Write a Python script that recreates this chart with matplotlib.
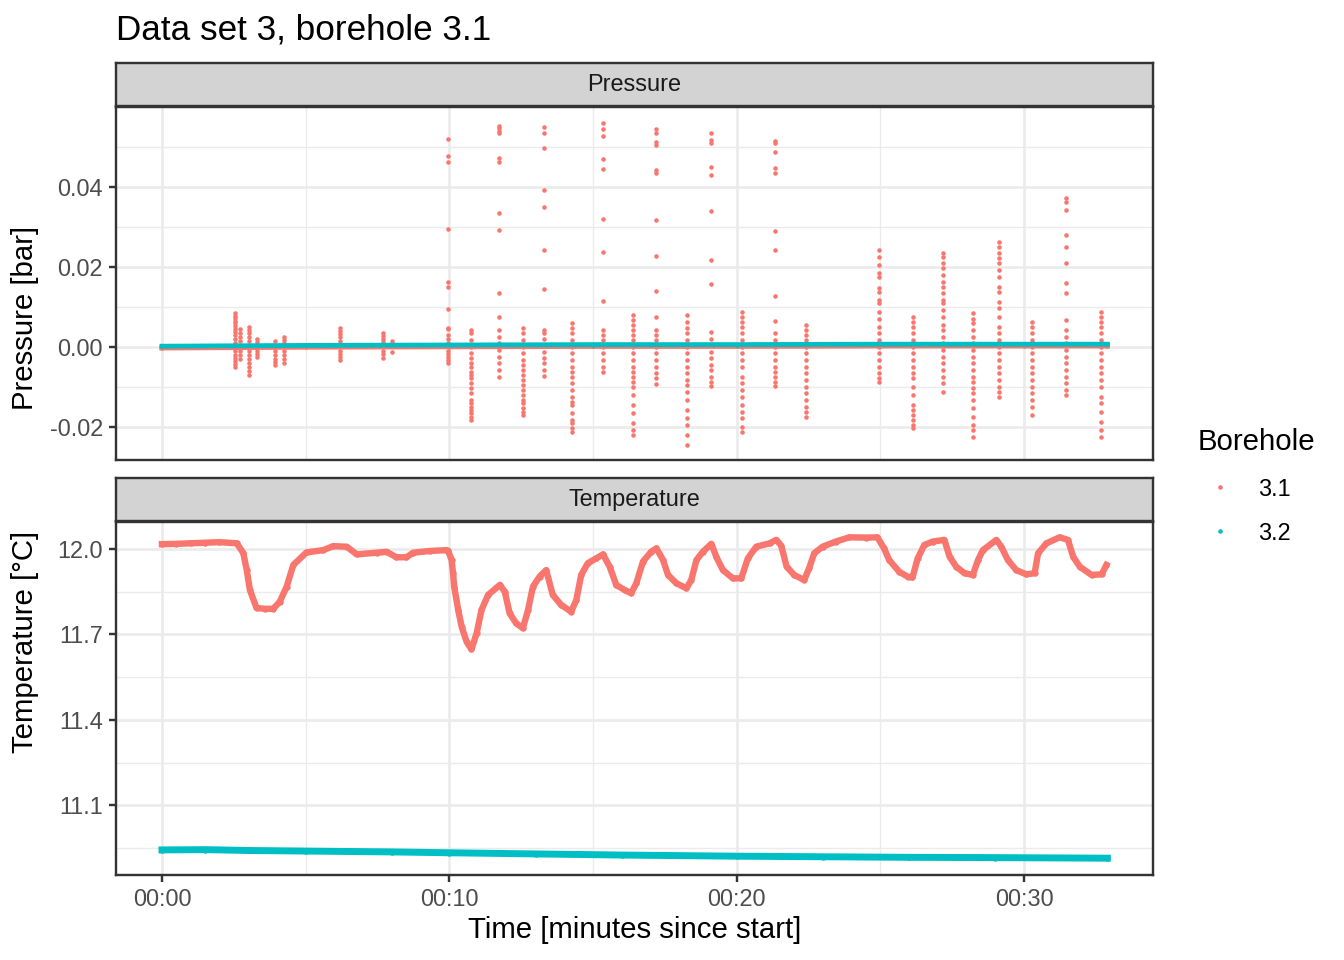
import matplotlib.pyplot as plt
from matplotlib.lines import Line2D

plt.rcParams['font.family'] = ['Liberation Sans', 'DejaVu Sans']

red = '#F8766D'
teal = '#00BFC4'

# Temperature, borehole 3.1 (minutes, degC)
temp_t_31 = [0.0, 0.5, 1.0, 1.5, 2.0, 2.6, 2.83, 2.95, 3.06, 3.29, 3.6, 3.87, 4.1, 4.34,
             4.57, 5.03, 5.61, 5.96, 6.43, 6.78, 7.47, 7.82, 8.16, 8.51, 8.74, 9.32, 9.9,
             9.96, 10.08, 10.13, 10.17, 10.31, 10.43, 10.6, 10.77, 10.95, 11.12, 11.35,
             11.76, 11.93, 12.1, 12.33, 12.56, 12.74, 12.91, 13.14, 13.37, 13.6, 13.89,
             14.24, 14.42, 14.59, 14.82, 15.11, 15.35, 15.58, 15.81, 16.1, 16.33, 16.51,
             16.74, 17.03, 17.21, 17.44, 17.61, 17.9, 18.25, 18.42, 18.6, 18.83, 19.12,
             19.29, 19.52, 19.87, 20.16, 20.39, 20.68, 21.15, 21.38, 21.55, 21.74, 22.0,
             22.35, 22.52, 22.7, 22.99, 23.45, 23.92, 24.5, 24.9, 25.13, 25.31, 25.66,
             25.95, 26.12, 26.3, 26.53, 26.82, 27.23, 27.41, 27.64, 27.93, 28.22, 28.4,
             28.57, 29.04, 29.21, 29.44, 29.73, 30.08, 30.37, 30.49, 30.78, 31.24, 31.53,
             31.71, 31.94, 32.35, 32.7, 32.87]
temp_v_31 = [12.017, 12.018, 12.02, 12.022, 12.024, 12.02, 11.986, 11.926, 11.856, 11.793,
             11.79, 11.79, 11.815, 11.868, 11.944, 11.988, 11.996, 12.01, 12.008, 11.981,
             11.987, 11.99, 11.971, 11.971, 11.987, 11.993, 11.996, 11.994, 11.961, 11.915,
             11.868, 11.786, 11.727, 11.675, 11.648, 11.704, 11.786, 11.839, 11.874, 11.85,
             11.774, 11.739, 11.722, 11.786, 11.868, 11.903, 11.926, 11.839, 11.804, 11.78,
             11.821, 11.909, 11.95, 11.967, 11.981, 11.938, 11.874, 11.856, 11.845, 11.88,
             11.956, 11.991, 12.002, 11.961, 11.909, 11.88, 11.862, 11.891, 11.961, 11.991,
             12.018, 11.973, 11.926, 11.897, 11.897, 11.967, 12.008, 12.02, 12.032, 12.012,
             11.938, 11.909, 11.891, 11.932, 11.985, 12.008, 12.026, 12.041, 12.04, 12.041,
             12.002, 11.961, 11.92, 11.903, 11.9, 11.967, 12.014, 12.026, 12.032, 11.973,
             11.938, 11.915, 11.909, 11.961, 11.996, 12.032, 12.008, 11.961, 11.926, 11.911,
             11.915, 11.985, 12.02, 12.041, 12.032, 11.973, 11.938, 11.909, 11.911, 11.944]

# Temperature, borehole 3.2
temp_t_32 = [0.0, 1.5, 3.0, 5.0, 8.0, 10.0, 13.0, 16.0, 20.0, 23.0, 26.0, 29.0, 32.9]
temp_v_32 = [10.944, 10.945, 10.942, 10.940, 10.937, 10.934, 10.930, 10.926, 10.922,
             10.920, 10.918, 10.917, 10.915]

# Pressure baseline (bar)
base_t = [0.0, 5.0, 10.0, 15.0, 20.0, 25.0, 30.0, 32.9]
base_31 = [-0.0002, 0.0, 0.0001, 0.0002, 0.0002, 0.0003, 0.0003, 0.0003]
base_32 = [0.0002, 0.0004, 0.0005, 0.0006, 0.0006, 0.0007, 0.0007, 0.0007]

# Pressure spikes of borehole 3.1: time of each burst and the readings in it
spike_times = [2.55, 2.72, 3.04, 3.3, 3.95, 4.25, 6.19, 7.7, 8.0, 9.96, 10.77, 11.72,
               12.56, 13.29, 14.27, 15.35, 16.4, 17.2, 18.27, 19.1, 20.19, 21.34, 22.41,
               24.97, 26.15, 27.19, 28.24, 29.12, 30.27, 31.45, 32.67]
spike_values = [
    [0.0084, 0.0078, 0.0072, 0.0065, 0.006, 0.0052, 0.0045, 0.0038, 0.003, 0.002, 0.001,
     -0.001, -0.002, -0.0028, -0.0035, -0.0042, -0.0049],
    [0.0045, 0.0035, 0.0025, 0.0015, -0.001, -0.002, -0.003],
    [0.0051, 0.0042, 0.0035, 0.0025, 0.0015, -0.001, -0.002, -0.003, -0.004, -0.005,
     -0.006, -0.0071],
    [0.0021, 0.0012, -0.001, -0.0018, -0.0025],
    [0.0015, -0.001, -0.002, -0.003, -0.0038, -0.0045],
    [0.0026, 0.0018, 0.001, -0.001, -0.002, -0.003, -0.004],
    [0.0047, 0.004, 0.0032, 0.0024, 0.0015, -0.001, -0.0018, -0.0026, -0.0033],
    [0.0034, 0.0028, 0.002, 0.0012, -0.001, -0.0018, -0.0028],
    [0.0015, -0.0012],
    [0.0519, 0.0477, 0.0463, 0.0295, 0.0163, 0.0151, 0.0094, 0.0048, 0.0045, 0.003,
     0.002, 0.001, -0.001, -0.0018, -0.0025, -0.0033, -0.0041],
    [0.0042, 0.0034, 0.0017, 0.0001, -0.0016, -0.0028, -0.0041, -0.0049, -0.0062, -0.007,
     -0.0078, -0.0091, -0.0103, -0.0116, -0.0133, -0.0141, -0.0149, -0.0158, -0.0166,
     -0.0174, -0.0183],
    [0.0553, 0.0547, 0.0541, 0.0536, 0.0472, 0.0463, 0.0334, 0.0292, 0.0134, 0.0076,
     0.0042, 0.0026, 0.0009, -0.0008, -0.0024, -0.0041, -0.0058, -0.0074],
    [0.0047, 0.0034, 0.0017, 0.0001, -0.0016, -0.0033, -0.0045, -0.0058, -0.007, -0.0083,
     -0.0095, -0.0108, -0.012, -0.0133, -0.0141, -0.0153, -0.0162, -0.017],
    [0.0551, 0.0534, 0.0497, 0.0393, 0.0349, 0.0243, 0.0144, 0.0042, 0.0034, 0.0021,
     0.0005, -0.0012, -0.0028, -0.0041, -0.0058, -0.0073],
    [0.0059, 0.0047, 0.0034, 0.0017, 0.0001, -0.0016, -0.0033, -0.0049, -0.0062, -0.0074,
     -0.0091, -0.0108, -0.0124, -0.0137, -0.0145, -0.0166, -0.0183, -0.0191, -0.0203,
     -0.0212],
    [0.0561, 0.0544, 0.0528, 0.0469, 0.0446, 0.0321, 0.0238, 0.0115, 0.0042, 0.003,
     0.0017, 0.0001, -0.0016, -0.0033, -0.0049, -0.0062],
    [0.008, 0.0068, 0.0055, 0.0042, 0.003, 0.0017, 0.0001, -0.0016, -0.0033, -0.0049,
     -0.0062, -0.0074, -0.0087, -0.01, -0.012, -0.0145, -0.0166, -0.0191, -0.0208, -0.022],
    [0.0545, 0.0534, 0.0513, 0.0505, 0.0443, 0.0436, 0.0318, 0.0228, 0.0141, 0.0076,
     0.0042, 0.003, 0.0017, 0.0001, -0.0016, -0.0033, -0.0049, -0.0066, -0.0078, -0.0092],
    [0.008, 0.0063, 0.0047, 0.0034, 0.0017, 0.0001, -0.0016, -0.0033, -0.0049, -0.0066,
     -0.0083, -0.0095, -0.0112, -0.0133, -0.0158, -0.0178, -0.0195, -0.022, -0.0245],
    [0.0536, 0.0518, 0.0511, 0.0449, 0.043, 0.0341, 0.0218, 0.0158, 0.0038, 0.0021,
     0.0005, -0.0012, -0.0028, -0.0045, -0.0058, -0.0074, -0.0087, -0.0098],
    [0.0088, 0.0076, 0.0063, 0.0051, 0.0034, 0.0017, 0.0001, -0.0016, -0.0033, -0.0049,
     -0.0074, -0.0091, -0.0108, -0.0124, -0.0145, -0.0162, -0.0178, -0.0199, -0.0212],
    [0.0516, 0.051, 0.0488, 0.0447, 0.0434, 0.029, 0.0243, 0.0128, 0.0065, 0.0034,
     0.0017, 0.0001, -0.0016, -0.0033, -0.0049, -0.0062, -0.0074, -0.0087, -0.0098],
    [0.0055, 0.0042, 0.003, 0.0017, 0.0001, -0.0016, -0.0033, -0.0049, -0.0066, -0.0083,
     -0.01, -0.0116, -0.0133, -0.0149, -0.0162, -0.0174],
    [0.0243, 0.0226, 0.0205, 0.0185, 0.0176, 0.0147, 0.0138, 0.0118, 0.011, 0.0088,
     0.0071, 0.0051, 0.0034, 0.0017, 0.0001, -0.0016, -0.0033, -0.0049, -0.0066, -0.0078,
     -0.0087],
    [0.0076, 0.0063, 0.0051, 0.0034, 0.0017, 0.0001, -0.0016, -0.0033, -0.0049, -0.0066,
     -0.0078, -0.01, -0.012, -0.0145, -0.0158, -0.017, -0.0183, -0.0195, -0.0203],
    [0.0236, 0.0226, 0.0209, 0.0197, 0.018, 0.0163, 0.0151, 0.0134, 0.0118, 0.011,
     0.0093, 0.0076, 0.0055, 0.0042, 0.0026, 0.0009, -0.0008, -0.0024, -0.0041, -0.0058,
     -0.0074, -0.0091, -0.0112],
    [0.0086, 0.0071, 0.0059, 0.0042, 0.0026, 0.0009, -0.0008, -0.0024, -0.0041, -0.0058,
     -0.0074, -0.0087, -0.0103, -0.0116, -0.0133, -0.0153, -0.0174, -0.0195, -0.0208,
     -0.0224],
    [0.0263, 0.0251, 0.0234, 0.0222, 0.0209, 0.0193, 0.0176, 0.0151, 0.0138, 0.0113,
     0.0097, 0.0076, 0.0051, 0.0034, 0.0017, 0.0001, -0.0016, -0.0033, -0.0049, -0.0066,
     -0.0083, -0.01, -0.0112, -0.0124],
    [0.0063, 0.0051, 0.0034, 0.0017, 0.0001, -0.0016, -0.0033, -0.0049, -0.0066, -0.0083,
     -0.01, -0.0116, -0.0133, -0.0149, -0.017],
    [0.0372, 0.0363, 0.0343, 0.028, 0.0251, 0.0209, 0.0161, 0.0134, 0.0068, 0.0042,
     0.0026, 0.0009, -0.0008, -0.0024, -0.0041, -0.0058, -0.0074, -0.0091, -0.0108,
     -0.012],
    [0.0088, 0.0076, 0.0063, 0.0051, 0.0034, 0.0017, 0.0001, -0.0016, -0.0033, -0.0049,
     -0.0066, -0.0083, -0.01, -0.0124, -0.0141, -0.0162, -0.0187, -0.0208, -0.0224],
]

x_ticks = [0, 10, 20, 30]
x_tick_labels = ['00:00', '00:10', '00:20', '00:30']
p_ticks = [0.04, 0.02, 0.0, -0.02]
p_tick_labels = ['0.04', '0.02', '0.00', '-0.02']
t_ticks = [12.0, 11.7, 11.4, 11.1]
t_tick_labels = ['12.0', '11.7', '11.4', '11.1']

W, H = 1344, 960
fig = plt.figure(figsize=(7, 5), dpi=192)


def box(left, top, right, bottom):
    return [left / W, 1 - bottom / H, (right - left) / W, (bottom - top) / H]


ax_p = fig.add_axes(box(116, 107, 1153, 460))
ax_t = fig.add_axes(box(116, 522, 1153, 875))
ms = 1.7

# pressure
ax_p.plot(base_t, base_31, color=red, lw=2.0, marker='o', ms=ms, mew=0, zorder=3)
for t, vals in zip(spike_times, spike_values):
    ax_p.plot([t] * len(vals), vals, ls='', marker='o', ms=ms, mew=0, color=red, zorder=3)
ax_p.plot(base_t, base_32, color=teal, lw=1.8, marker='o', ms=ms, mew=0, zorder=4)

# temperature
ax_t.plot(temp_t_31, temp_v_31, color=red, lw=2.4, marker='o', ms=2.4, mew=0, zorder=3)
ax_t.plot(temp_t_32, temp_v_32, color=teal, lw=2.6, marker='o', ms=2.4, mew=0, zorder=3)

for ax in (ax_p, ax_t):
    ax.set_xlim(-1.6, 34.49)
    ax.set_xticks(x_ticks)
    ax.set_xticks([5, 15, 25], minor=True)
    ax.grid(True, which='major', color='#EBEBEB', lw=1.0, zorder=0)
    ax.grid(True, which='minor', color='#EBEBEB', lw=0.5, zorder=0)
    ax.set_axisbelow(True)
    for s in ax.spines.values():
        s.set_color('#333333')
        s.set_linewidth(0.9)
    ax.tick_params(which='major', length=2.75, width=0.9, color='#333333',
                   labelcolor='#4D4D4D', labelsize=8.8, pad=2.2)
    ax.tick_params(which='minor', length=0)

ax_p.set_ylim(-0.02825, 0.06)
ax_p.set_yticks(p_ticks)
ax_p.set_yticklabels(p_tick_labels)
ax_p.set_yticks([0.05, 0.03, 0.01, -0.01], minor=True)
ax_p.tick_params(axis='x', which='both', length=0, labelbottom=False)
ax_p.set_ylabel('Pressure [bar]', fontsize=11, va='center')
ax_p.yaxis.set_label_coords((25 - 116) / 1037, (460 - 318) / 353)

ax_t.set_ylim(10.856, 12.0947)
ax_t.set_yticks(t_ticks)
ax_t.set_yticklabels(t_tick_labels)
ax_t.set_yticks([11.85, 11.55, 11.25, 10.95], minor=True)
ax_t.set_xticklabels(x_tick_labels)
ax_t.set_ylabel('Temperature [°C]', fontsize=11, va='center')
ax_t.yaxis.set_label_coords((25 - 116) / 1037, (875 - 642) / 353)
ax_t.set_xlabel('Time [minutes since start]', fontsize=11, va='center')
ax_t.xaxis.set_label_coords(0.5, (875 - 930) / 353)

# facet strips
for (top, bottom), label in [((63, 106), 'Pressure'), ((478, 521), 'Temperature')]:
    sax = fig.add_axes(box(116, top, 1153, bottom))
    sax.set_facecolor('#D3D3D3')
    sax.set_xticks([])
    sax.set_yticks([])
    for s in sax.spines.values():
        s.set_color('#333333')
        s.set_linewidth(0.9)
    sax.text(0.5, 0.5, label, ha='center', va='center', fontsize=8.8, color='#1A1A1A',
             transform=sax.transAxes)

fig.text(116 / W, 1 - 40 / H, 'Data set 3, borehole 3.1', fontsize=13.2, va='baseline')

handles = [Line2D([], [], ls='', marker='o', ms=ms, mew=0, color=red),
           Line2D([], [], ls='', marker='o', ms=ms, mew=0, color=teal)]
fig.legend(handles, ['3.1', '3.2'], title='Borehole', loc='upper left',
           bbox_to_anchor=(1188 / W, 1 - 419 / H), frameon=False, fontsize=8.8,
           title_fontsize=11, alignment='left', handlelength=1.93, handletextpad=0.66,
           labelspacing=0.9, borderaxespad=0)

fig.savefig('out.png', dpi=192)
